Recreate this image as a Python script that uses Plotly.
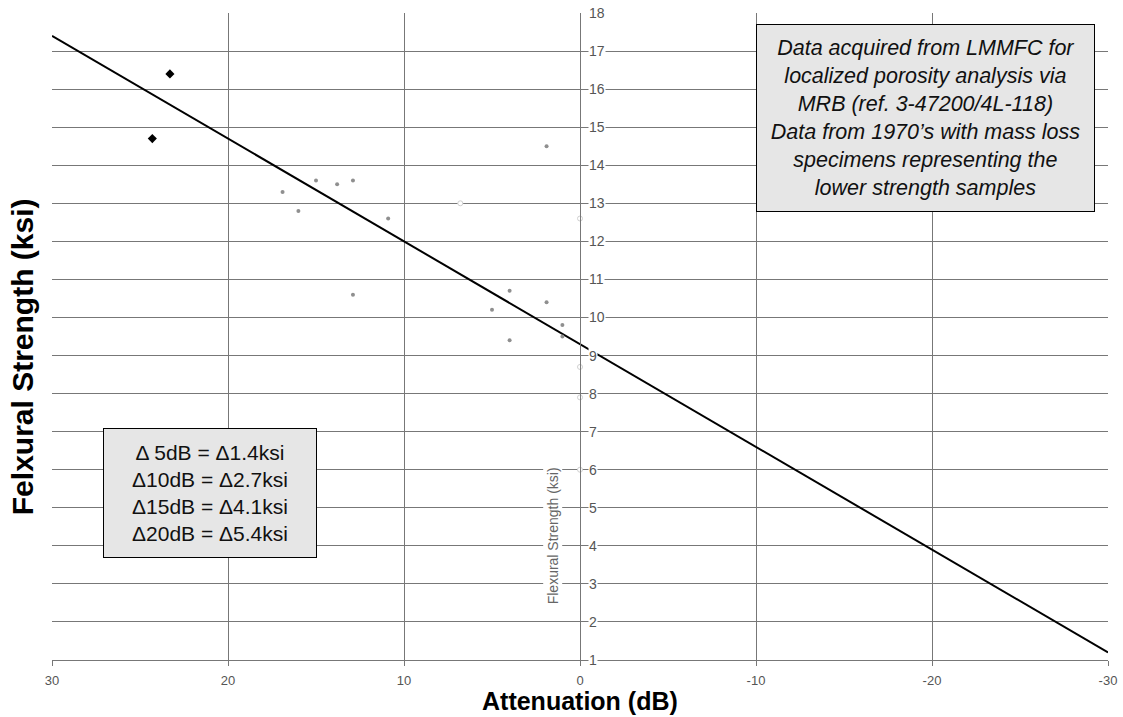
import plotly.graph_objects as go

# ---- data ----
gray_x = [15.0, 13.8, 12.9, 16.9, 16.0, 10.9, 12.9, 4.0, 5.0, 1.9, 1.0, 1.0, 4.0, 1.9]
gray_y = [13.6, 13.5, 13.6, 13.3, 12.8, 12.6, 10.6, 10.7, 10.2, 10.4, 9.8, 9.5, 9.4, 14.5]
black_x = [23.3, 24.3]
black_y = [16.4, 14.7]
faint_x = [6.8, 0.0, 0.0, 0.0, 0.0]
faint_y = [13.0, 12.6, 8.7, 7.9, 6.0]
trend_x = [30, -30]
trend_y = [17.4, 1.2]
x_ticks = [30, 20, 10, 0, -10, -20, -30]
x_ticktext = ["30", "20", "10", "0", "-10", "-20", "-30"]
y_ticks = list(range(1, 19))

FONT = "Liberation Sans, Arial, sans-serif"
GRID = "#777777"

fig = go.Figure()
fig.add_trace(go.Scatter(x=trend_x, y=trend_y, mode="lines",
                         line=dict(color="black", width=2), hoverinfo="skip"))
fig.add_trace(go.Scatter(x=faint_x, y=faint_y, mode="markers",
                         marker=dict(color="white", size=5, line=dict(color="#d0d0d0", width=1))))
fig.add_trace(go.Scatter(x=gray_x, y=gray_y, mode="markers",
                         marker=dict(color="#8f8f8f", size=4)))
fig.add_trace(go.Scatter(x=black_x, y=black_y, mode="markers",
                         marker=dict(color="black", size=7, symbol="diamond")))

fig.update_layout(
    width=1123, height=717,
    margin=dict(l=52, r=15, t=13, b=57),
    paper_bgcolor="white", plot_bgcolor="white",
    showlegend=False,
    font=dict(family=FONT, color="#555"),
    xaxis=dict(range=[30, -30], tickvals=x_ticks, ticktext=x_ticktext,
               showgrid=True, gridcolor=GRID, gridwidth=1.4, zeroline=False,
               ticks="outside", ticklen=5, tickcolor=GRID, ticklabelstandoff=3,
               showline=True, linecolor=GRID, linewidth=1.4, automargin=False,
               tickfont=dict(size=13, color="#555")),
    yaxis=dict(range=[1, 18], tickvals=y_ticks, showticklabels=False,
               showgrid=True, gridcolor=GRID, gridwidth=1.4, zeroline=False,
               anchor="free", position=0.5, showline=True, linecolor=GRID,
               linewidth=1.4, automargin=False),
)

# y tick labels beside the central axis
for v in y_ticks:
    fig.add_annotation(x=0, y=v, xref="x", yref="y", text=str(v), showarrow=False,
                       xanchor="left", xshift=8, bgcolor="white", borderpad=0,
                       font=dict(size=14, color="#555", family=FONT))

fig.add_annotation(x=0, y=4.25, xref="x", yref="y", text="Flexural Strength (ksi)",
                   textangle=-90, showarrow=False, xanchor="center", xshift=-27,
                   bgcolor="white", borderpad=1, font=dict(size=14, color="#666", family=FONT))

# titles
fig.add_annotation(x=-0.0284, y=0.468, xref="paper", yref="paper",
                   text="<b>Felxural Strength (ksi)</b>", textangle=-90, showarrow=False,
                   xanchor="center", yanchor="middle",
                   font=dict(size=30, color="black", family=FONT))
fig.add_annotation(x=0.5, y=-0.0634, xref="paper", yref="paper",
                   text="<b>Attenuation (dB)</b>", showarrow=False,
                   xanchor="center", yanchor="middle",
                   font=dict(size=25, color="black", family=FONT))

# text boxes
fig.add_annotation(x=0.827, y=0.838, xref="paper", yref="paper",
                   xanchor="center", yanchor="middle",
                   text=("<i>Data acquired from LMMFC for<br>localized porosity analysis via<br>"
                         "MRB (ref. 3-47200/4L-118)<br>Data from 1970\u2019s with mass loss<br>"
                         "specimens representing the<br>lower strength samples</i>"),
                   showarrow=False, align="center", width=335, height=184, borderpad=1,
                   bgcolor="#e6e6e6", bordercolor="black", borderwidth=1,
                   font=dict(size=21.5, color="#111", family=FONT))
fig.add_annotation(x=0.1496, y=0.258, xref="paper", yref="paper",
                   xanchor="center", yanchor="middle",
                   text=("\u0394 5dB = \u03941.4ksi<br>\u039410dB = \u03942.7ksi<br>"
                         "\u039415dB = \u03944.1ksi<br>\u039420dB = \u03945.4ksi"),
                   showarrow=False, align="center", width=210, height=126, borderpad=1,
                   bgcolor="#e6e6e6", bordercolor="black", borderwidth=1,
                   font=dict(size=21, color="#111", family=FONT))

fig.write_html("out.html", config={"displayModeBar": False},
               post_script="document.body.style.margin='0px';")
